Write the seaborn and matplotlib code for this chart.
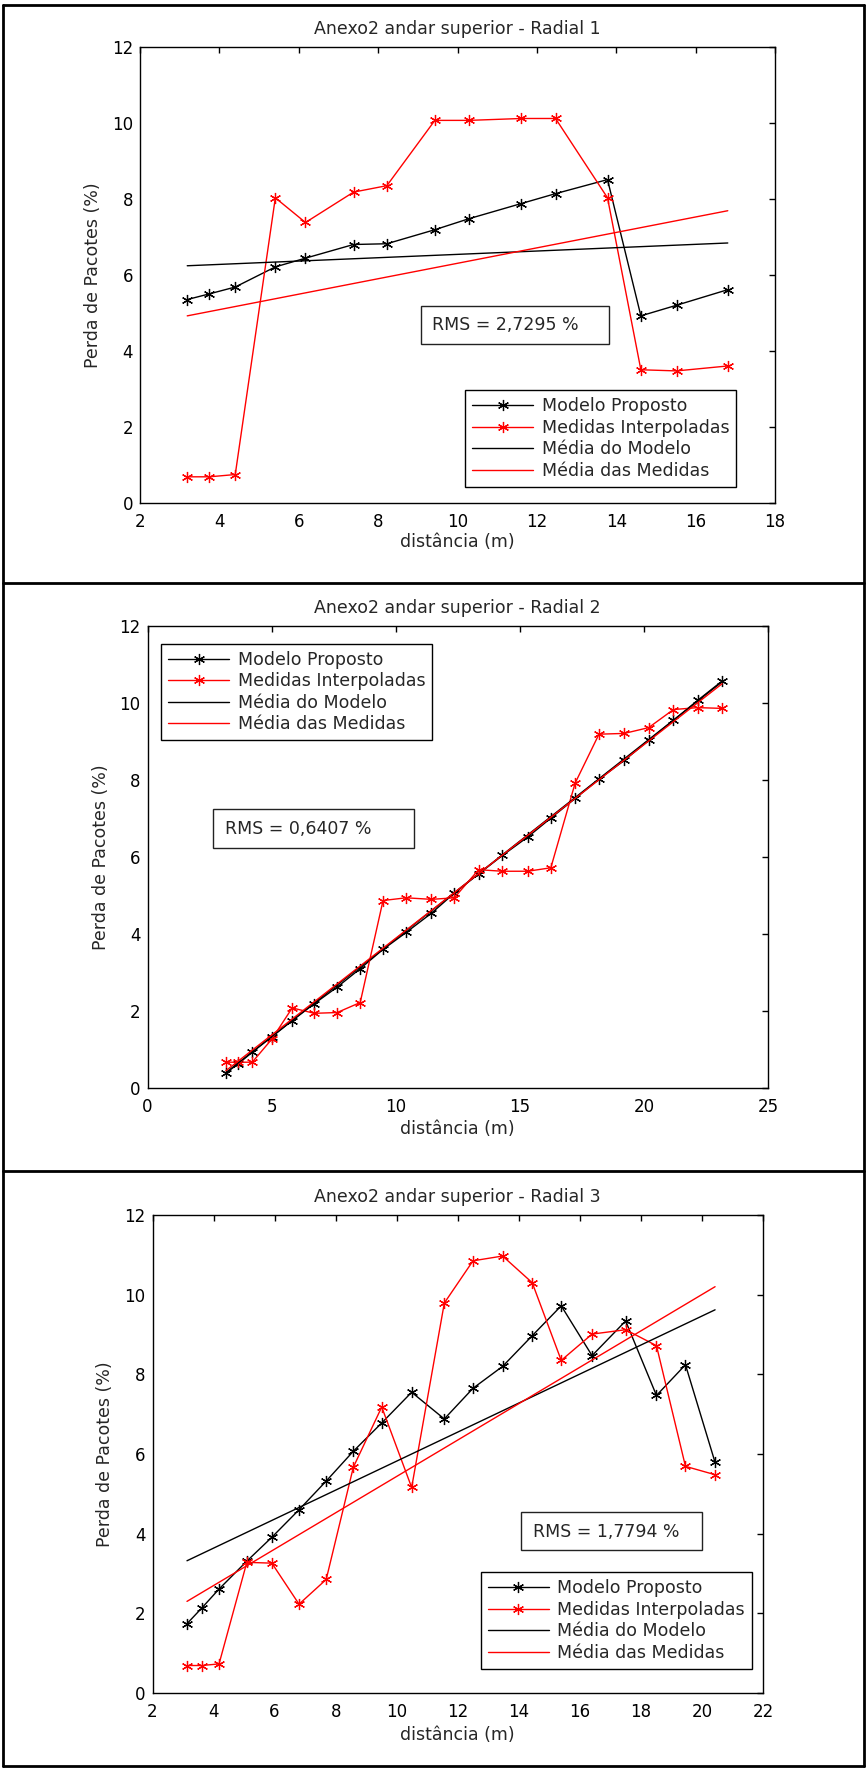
import matplotlib
matplotlib.use("Agg")
import matplotlib.pyplot as plt
import seaborn as sns
import numpy as np
from matplotlib.lines import Line2D
from matplotlib.patches import Rectangle

# ---------------- data ----------------
titles = ["Anexo2 andar superior - Radial 1",
          "Anexo2 andar superior - Radial 2",
          "Anexo2 andar superior - Radial 3"]
legend_labels = ["Modelo Proposto", "Medidas Interpoladas",
                 "Média do Modelo", "Média das Medidas"]
rms_texts = ["RMS = 2,7295 %", "RMS = 0,6407 %", "RMS = 1,7794 %"]
xlabel_text = "distância (m)"
ylabel_text = "Perda de Pacotes (%)"

dist1 = [3.19, 3.75, 4.40, 5.41, 6.17, 7.38, 8.22, 9.43, 10.29, 11.61, 12.47,
         13.78, 14.62, 15.52, 16.81]
modelo1 = [5.36, 5.51, 5.69, 6.22, 6.45, 6.81, 6.83, 7.20, 7.49, 7.89, 8.15,
           8.52, 4.93, 5.21, 5.62]
medidas1 = [0.69, 0.69, 0.75, 8.04, 7.39, 8.19, 8.36, 10.08, 10.08, 10.13,
            10.13, 8.04, 3.51, 3.48, 3.61]
media_modelo1 = [6.25, 6.85]
media_medidas1 = [4.93, 7.70]

dist2 = [3.16, 3.66, 4.22, 5.01, 5.83, 6.72, 7.64, 8.57, 9.49, 10.42, 11.44,
         12.36, 13.34, 14.30, 15.32, 16.25, 17.23, 18.19, 19.21, 20.19, 21.19,
         22.17, 23.15]
modelo2 = [0.39, 0.63, 0.93, 1.33, 1.75, 2.19, 2.62, 3.10, 3.60, 4.04, 4.54,
           5.06, 5.56, 6.04, 6.52, 7.01, 7.52, 8.02, 8.51, 9.03, 9.55, 10.07,
           10.57]
medidas2 = [0.67, 0.67, 0.67, 1.27, 2.08, 1.94, 1.96, 2.22, 4.87, 4.94, 4.90,
            4.94, 5.67, 5.63, 5.63, 5.72, 7.92, 9.19, 9.21, 9.36, 9.83, 9.88,
            9.86]
media_modelo2 = [0.40, 10.55]
media_medidas2 = [0.45, 10.50]

dist3 = [3.13, 3.61, 4.18, 5.09, 5.91, 6.80, 7.69, 8.58, 9.51, 10.49, 11.56,
         12.50, 13.47, 14.44, 15.39, 16.40, 17.50, 18.51, 19.46, 20.43]
modelo3 = [1.74, 2.13, 2.61, 3.31, 3.91, 4.60, 5.32, 6.07, 6.78, 7.55, 6.88,
           7.65, 8.20, 8.97, 9.72, 8.47, 9.34, 7.47, 8.24, 5.79]
medidas3 = [0.69, 0.69, 0.73, 3.28, 3.26, 2.23, 2.85, 5.67, 7.18, 5.16, 9.79,
            10.85, 10.97, 10.30, 8.35, 9.01, 9.12, 8.72, 5.69, 5.48]
media_modelo3 = [3.32, 9.62]
media_medidas3 = [2.30, 10.20]

xlims = [(2, 18), (0, 25), (2, 22)]
xticks = [[2, 4, 6, 8, 10, 12, 14, 16, 18],
          [0, 5, 10, 15, 20, 25],
          [2, 4, 6, 8, 10, 12, 14, 16, 18, 20, 22]]
yticks = [0, 2, 4, 6, 8, 10, 12]

# ---------------- layout / style ----------------
W, H = 867, 1769
sns.set_style("white")
plt.rcParams['font.family'] = ['DejaVu Sans']

fig = plt.figure(figsize=(W / 100, H / 100), dpi=100)

# axes rectangles in pixels: left, right, top, bottom
ax_px = [(140, 775, 47.5, 503), (147.5, 768, 626, 1088), (152.5, 763, 1215, 1693)]
# RMS boxes (data coords): x0, x1, y0, y1, text x, text y
rms_boxes = [(9.08, 13.81, 4.20, 5.18, 9.35, 4.70),
             (2.65, 10.73, 6.24, 7.24, 3.11, 6.72),
             (14.07, 20.01, 3.58, 4.54, 14.45, 4.04)]
legend_anchor = [(0.5125, 0.2475), (0.0222, 0.961), (0.538, 0.2525)]
xlabel_off = [30, 32, 33]

series = [(dist1, modelo1, medidas1, media_modelo1, media_medidas1),
          (dist2, modelo2, medidas2, media_modelo2, media_medidas2),
          (dist3, modelo3, medidas3, media_modelo3, media_medidas3)]

star = (6, 2, 0)

for i in range(3):
    l, r, t, b = ax_px[i]
    ax = fig.add_axes([l / W, 1 - b / H, (r - l) / W, (b - t) / H])
    d, mo, me, mmo, mme = series[i]
    ends = [d[0], d[-1]]

    sns.lineplot(x=d, y=mo, ax=ax, color="black", lw=1.0, marker=star,
                 markersize=8, markeredgewidth=0.9, markeredgecolor="black",
                 sort=False, estimator=None, errorbar=None,
                 label=legend_labels[0])
    sns.lineplot(x=d, y=me, ax=ax, color="#ff0000", lw=1.0, marker=star,
                 markersize=8, markeredgewidth=0.9, markeredgecolor="#ff0000",
                 sort=False, estimator=None, errorbar=None,
                 label=legend_labels[1])
    sns.lineplot(x=ends, y=mmo, ax=ax, color="black", lw=1.0,
                 sort=False, estimator=None, errorbar=None,
                 label=legend_labels[2])
    sns.lineplot(x=ends, y=mme, ax=ax, color="#ff0000", lw=1.0,
                 sort=False, estimator=None, errorbar=None,
                 label=legend_labels[3])

    ax.set_xlim(*xlims[i])
    ax.set_ylim(0, 12)
    ax.set_xticks(xticks[i])
    ax.set_yticks(yticks)
    ax.tick_params(direction="in", length=4, width=1, top=True, right=True,
                   labelsize=12, colors="black")
    ax.tick_params(axis="x", pad=7)
    ax.tick_params(axis="y", pad=5)
    for sp in ax.spines.values():
        sp.set_visible(True)
        sp.set_color("black")
        sp.set_linewidth(1.0)

    ax.set_title(titles[i], fontsize=12.5, pad=9.6)
    ax.set_xlabel(xlabel_text, fontsize=12.5)
    ax.xaxis.set_label_coords(0.5, -xlabel_off[i] / (b - t))
    ax.set_ylabel(ylabel_text, fontsize=12.5)
    ax.yaxis.label.set_va("center")
    ax.yaxis.set_label_coords(-47 / (r - l), 0.5)

    x0, x1, y0, y1, tx, ty = rms_boxes[i]
    ax.add_patch(Rectangle((x0, y0), x1 - x0, y1 - y0, fill=False,
                           edgecolor="#222222", lw=1.0, zorder=5))
    ax.text(tx, ty, rms_texts[i], fontsize=12.5, va="center", ha="left",
            zorder=6)

    leg = ax.legend(loc="upper left", bbox_to_anchor=legend_anchor[i],
                    borderaxespad=0, fontsize=12.5, frameon=True,
                    fancybox=False, framealpha=1, edgecolor="black",
                    handlelength=3.5, handletextpad=0.5, labelspacing=0.2,
                    borderpad=0.4, numpoints=1)
    leg.get_frame().set_linewidth(1.0)

# figure frame and dividers
for yy in [5, 583, 1171, 1766]:
    fig.add_artist(Line2D([3 / W, 864 / W], [1 - yy / H, 1 - yy / H],
                          transform=fig.transFigure, color="black", lw=2))
for xx in [3, 864]:
    fig.add_artist(Line2D([xx / W, xx / W], [1 - 5 / H, 1 - 1766 / H],
                          transform=fig.transFigure, color="black", lw=2))

fig.savefig("out.png", dpi=100)
